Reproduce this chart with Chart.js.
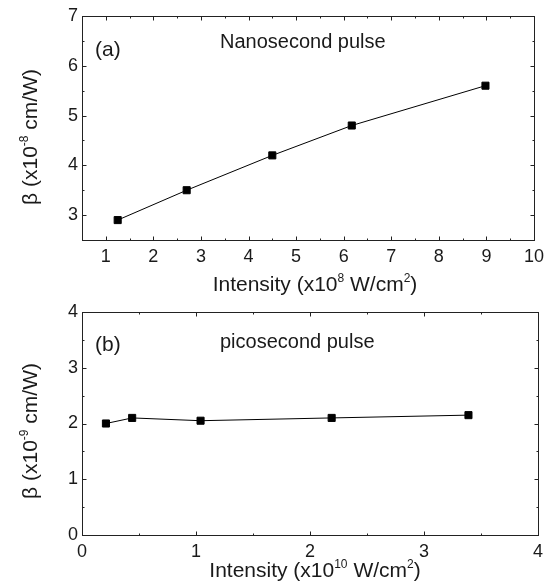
<!DOCTYPE html>
<html>
<head>
<meta charset="utf-8">
<script src="https://cdn.jsdelivr.net/npm/chart.js@4.4.1/dist/chart.umd.min.js"></script>
<style>
  html, body { margin: 0; padding: 0; background: #fff; }
  #wrap { position: relative; width: 550px; height: 582px; }
  #wrap canvas { position: absolute; left: 0; }
</style>
</head>
<body>
<div id="wrap">
  <canvas id="chartA" width="550" height="300" style="top:0"></canvas>
  <canvas id="chartB" width="550" height="292" style="top:290px"></canvas>
</div>
<script>
// (a) nanosecond pulse
const nsIntensity = [1.25, 2.7, 4.5, 6.17, 8.98];
const nsBeta = [2.9, 3.5, 4.2, 4.8, 5.6];
const nsXTicks = [1, 2, 3, 4, 5, 6, 7, 8, 9, 10];
const nsYTicks = [3, 4, 5, 6, 7];

// (b) picosecond pulse
const psIntensity = [0.21, 0.44, 1.04, 2.19, 3.39];
const psBeta = [2.0, 2.1, 2.05, 2.1, 2.15];
const psXTicks = [0, 1, 2, 3, 4];
const psYTicks = [0, 1, 2, 3, 4];

const FONT = '"Liberation Sans", Arial, sans-serif';
const TEXT = '#1a1a1a';

// text with superscripts, centred on (x, y) baseline
function drawRich(ctx, parts, x, y, size, angle) {
  const big = size + 'px ' + FONT;
  const small = Math.round(size * 0.57) + 'px ' + FONT;
  let total = 0;
  parts.forEach(p => {
    ctx.font = p.sup ? small : big;
    p.w = ctx.measureText(p.text).width;
    total += p.w;
  });
  ctx.save();
  ctx.translate(x, y);
  ctx.rotate(angle || 0);
  ctx.fillStyle = TEXT;
  ctx.textAlign = 'left';
  ctx.textBaseline = 'alphabetic';
  let cx = -total / 2;
  parts.forEach(p => {
    ctx.font = p.sup ? small : big;
    ctx.fillText(p.text, cx, p.sup ? -size * 0.45 : 0);
    cx += p.w;
  });
  ctx.restore();
}

// box round the plot, with inward ticks on all four sides
const frameTicks = {
  id: 'frameTicks',
  afterDraw(chart) {
    const { ctx, chartArea: a, scales } = chart;
    const L = Math.round(a.left) + 0.5, R = Math.round(a.right) + 0.5;
    const T = Math.round(a.top) + 0.5, B = Math.round(a.bottom) + 0.5;
    ctx.save();
    ctx.strokeStyle = '#222';
    ctx.lineWidth = 1;
    ctx.strokeRect(L, T, R - L, B - T);
    ctx.beginPath();
    for (let v = scales.x.min; v <= scales.x.max + 1e-9; v += 0.5) {
      const px = Math.round(scales.x.getPixelForValue(v)) + 0.5;
      const len = Number.isInteger(v) ? 4 : 2;
      ctx.moveTo(px, B); ctx.lineTo(px, B - len);
      ctx.moveTo(px, T); ctx.lineTo(px, T + len);
    }
    for (let v = scales.y.min; v <= scales.y.max + 1e-9; v += 0.5) {
      const py = Math.round(scales.y.getPixelForValue(v)) + 0.5;
      const len = Number.isInteger(v) ? 4 : 2;
      ctx.moveTo(L, py); ctx.lineTo(L + len, py);
      ctx.moveTo(R, py); ctx.lineTo(R - len, py);
    }
    ctx.stroke();
    ctx.restore();
  }
};

const annotations = {
  id: 'annotations',
  afterDraw(chart, args, opts) {
    const ctx = chart.ctx;
    ctx.save();
    ctx.fillStyle = TEXT;
    ctx.textAlign = 'left';
    ctx.textBaseline = 'alphabetic';
    ctx.font = '21px ' + FONT;
    ctx.fillText(opts.panel, 95, opts.panelY);
    ctx.font = '20px ' + FONT;
    ctx.fillText(opts.caption, 220, opts.captionY);
    ctx.restore();
    drawRich(ctx, opts.xTitle, 315, opts.xTitleY, 21, 0);
    drawRich(ctx, opts.yTitle, 37, opts.yTitleY, 21, -Math.PI / 2);
  }
};

function makeChart(id, xs, ys, xTicks, yTicks, xMin, xMax, yMin, yMax, top, xH, opts) {
  return new Chart(document.getElementById(id), {
    type: 'line',
    data: {
      datasets: [{
        data: xs.map((x, i) => ({ x: x, y: ys[i] })),
        borderColor: '#000',
        borderWidth: 1,
        tension: 0,
        pointStyle: 'rect',
        pointRadius: 5,
        pointHoverRadius: 5,
        pointBackgroundColor: '#000',
        pointBorderColor: '#000',
        pointBorderWidth: 1
      }]
    },
    options: {
      responsive: false,
      animation: false,
      layout: { padding: { left: 0, right: 12, top: top, bottom: 0 } },
      plugins: {
        legend: { display: false },
        tooltip: { enabled: false },
        annotations: opts
      },
      scales: {
        x: {
          type: 'linear', min: xMin, max: xMax,
          afterBuildTicks: s => { s.ticks = xTicks.map(v => ({ value: v })); },
          afterFit: s => { s.height = xH; },
          grid: { display: false, drawTicks: false },
          border: { display: false },
          ticks: { padding: 6, color: TEXT, font: { family: FONT, size: 18 }, maxRotation: 0, autoSkip: false }
        },
        y: {
          type: 'linear', min: yMin, max: yMax,
          afterBuildTicks: s => { s.ticks = yTicks.map(v => ({ value: v })); },
          afterFit: s => { s.width = 82; },
          grid: { display: false, drawTicks: false },
          border: { display: false },
          ticks: { padding: 4, color: TEXT, font: { family: FONT, size: 18 }, autoSkip: false }
        }
      }
    },
    plugins: [frameTicks, annotations]
  });
}

makeChart('chartA', nsIntensity, nsBeta, nsXTicks, nsYTicks, 0.5, 10, 2.5, 7, 16, 60, {
  panel: '(a)', panelY: 55.5,
  caption: 'Nanosecond pulse', captionY: 48,
  xTitle: [{ text: 'Intensity (x10' }, { text: '8', sup: true }, { text: ' W/cm' }, { text: '2', sup: true }, { text: ')' }],
  xTitleY: 291,
  yTitle: [{ text: 'β (x10' }, { text: '-8', sup: true }, { text: ' cm/W)' }],
  yTitleY: 137
});

makeChart('chartB', psIntensity, psBeta, psXTicks, psYTicks, 0, 4, 0, 4, 22, 47, {
  panel: '(b)', panelY: 61,
  caption: 'picosecond pulse', captionY: 58,
  xTitle: [{ text: 'Intensity (x10' }, { text: '10', sup: true }, { text: ' W/cm' }, { text: '2', sup: true }, { text: ')' }],
  xTitleY: 287,
  yTitle: [{ text: 'β (x10' }, { text: '-9', sup: true }, { text: ' cm/W)' }],
  yTitleY: 141
});
</script>
</body>
</html>
